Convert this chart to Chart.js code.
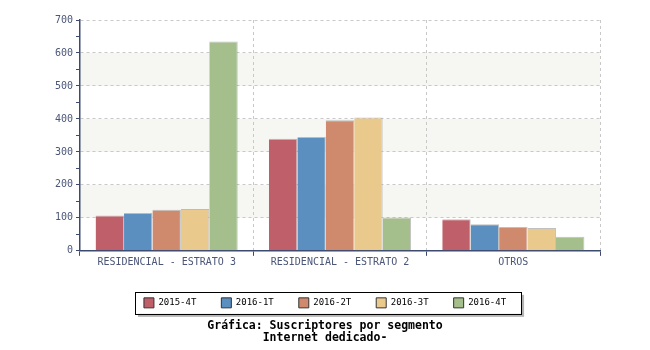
<!DOCTYPE html>
<html>
<head>
<meta charset="utf-8">
<script src="https://cdn.jsdelivr.net/npm/chart.js@4/dist/chart.umd.min.js"></script>
<style>
  html, body { margin: 0; padding: 0; background: #fff; }
  #wrap { width: 650px; height: 350px; }
</style>
</head>
<body>
<div id="wrap"><canvas id="segChart" width="650" height="350"></canvas></div>
<script>
// Data
const categories = ['RESIDENCIAL - ESTRATO 3', 'RESIDENCIAL - ESTRATO 2', 'OTROS'];
const periods = ['2015-4T', '2016-1T', '2016-2T', '2016-3T', '2016-4T'];
const s2015_4T = [107, 340, 96];
const s2016_1T = [115, 345, 81];
const s2016_2T = [125, 396, 72];
const s2016_3T = [127, 404, 69];
const s2016_4T = [635, 101, 43];
const seriesValues = [s2015_4T, s2016_1T, s2016_2T, s2016_3T, s2016_4T];
const colors = ['#be5f69', '#5b8fc0', '#cf8a6e', '#eaca8c', '#a4be8c'];
const titleLines = ['Gráfica: Suscriptores por segmento', 'Internet dedicado-'];

const AXIS = '#3d4a70';
const TXT = '#4b5678';
const GRID = '#c8c8c8';
const BAND = '#f6f6f2';
const MONO = '"DejaVu Sans Mono", monospace';

// alternating background bands + framed legend with shadow
const decor = {
    id: 'decor',
    beforeDraw(chart) {
        const ctx = chart.ctx;
        const y = chart.scales.y;
        const area = chart.chartArea;
        ctx.save();
        ctx.fillStyle = BAND;
        for (let v = 100; v < 700; v += 200) {
            const top = y.getPixelForValue(v + 100);
            const bot = y.getPixelForValue(v);
            ctx.fillRect(area.left, top, area.right - area.left, bot - top);
        }
        // legend frame
        const boxes = chart.legend.legendHitBoxes;
        if (boxes && boxes.length) {
            const l = Math.min(...boxes.map(b => b.left)) - 9;
            const r = Math.max(...boxes.map(b => b.left + b.width)) + 15;
            const t = boxes[0].top - 6;
            const b = boxes[0].top + boxes[0].height + 6;
            ctx.fillStyle = '#b4b4b4';
            ctx.fillRect(l + 3, t + 3, r - l, b - t);
            ctx.fillStyle = '#fff';
            ctx.fillRect(l, t, r - l, b - t);
            ctx.strokeStyle = '#000';
            ctx.lineWidth = 1;
            ctx.strokeRect(Math.round(l) + 0.5, Math.round(t) + 0.5, Math.round(r - l), Math.round(b - t));
        }
        ctx.restore();
    }
};

const ctx = document.getElementById('segChart').getContext('2d');
new Chart(ctx, {
    type: 'bar',
    data: {
        labels: categories,
        datasets: periods.map((p, i) => ({
            label: p,
            data: seriesValues[i],
            backgroundColor: colors[i],
            borderColor: 'rgba(150,150,150,0.6)',
            borderWidth: { top: 1, right: 1, left: 0, bottom: 0 },
            borderSkipped: 'bottom',
            categoryPercentage: 0.82,
            barPercentage: 1.0
        }))
    },
    options: {
        responsive: false,
        animation: false,
        layout: { padding: { top: 20, right: 50, left: 50, bottom: 4 } },
        scales: {
            x: {
                afterFit: s => { s.height = 22; },
                grid: {
                    offset: true,
                    color: GRID,
                    tickColor: AXIS,
                    tickLength: 5,
                    tickBorderDash: []
                },
                border: { color: AXIS, width: 1.5, dash: [3, 3] },
                ticks: { color: TXT, font: { family: MONO, size: 10 }, padding: 1, maxRotation: 0 }
            },
            y: {
                min: 0,
                max: 700,
                afterFit: s => { s.width = 30; },
                grid: {
                    color: c => (c.tick && c.tick.value % 100 === 0) ? GRID : 'rgba(0,0,0,0)',
                    tickColor: AXIS,
                    tickLength: 4,
                    tickBorderDash: []
                },
                border: { color: AXIS, width: 1.5, dash: [3, 3] },
                ticks: {
                    stepSize: 50,
                    color: TXT,
                    padding: 3,
                    font: { family: MONO, size: 10 },
                    callback: v => (v % 100 === 0 ? v : '')
                }
            }
        },
        plugins: {
            tooltip: { enabled: false },
            legend: {
                position: 'bottom',
                labels: {
                    boxWidth: 10,
                    boxHeight: 10,
                    padding: 25,
                    color: '#000',
                    font: { family: MONO, size: 9 },
                    generateLabels: chart => chart.data.datasets.map((ds, i) => ({
                        text: ds.label,
                        fillStyle: ds.backgroundColor,
                        strokeStyle: '#333',
                        lineWidth: 1,
                        datasetIndex: i
                    }))
                }
            },
            title: {
                display: true,
                position: 'bottom',
                text: titleLines,
                color: '#000',
                font: { family: MONO, size: 11.5, weight: 'bold', lineHeight: 1.05 },
                padding: { top: 2, bottom: 2 }
            }
        }
    },
    plugins: [decor]
});
</script>
</body>
</html>
